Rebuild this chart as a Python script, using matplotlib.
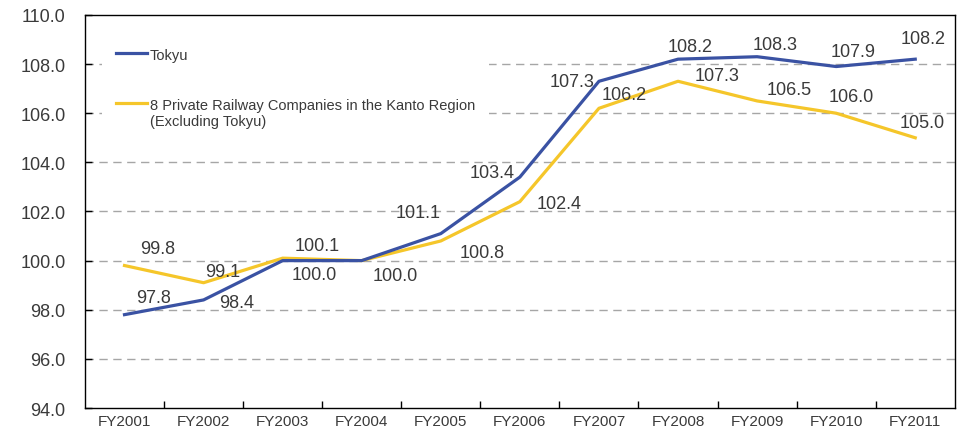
import matplotlib.pyplot as plt
from matplotlib.ticker import FixedLocator

plt.rcParams['font.family'] = ['Liberation Sans', 'DejaVu Sans']

years = ["FY2001", "FY2002", "FY2003", "FY2004", "FY2005", "FY2006",
         "FY2007", "FY2008", "FY2009", "FY2010", "FY2011"]
tokyu = [97.8, 98.4, 100.0, 100.0, 101.1, 103.4, 107.3, 108.2, 108.3, 107.9, 108.2]
kanto = [99.8, 99.1, 100.1, 100.0, 100.8, 102.4, 106.2, 107.3, 106.5, 106.0, 105.0]
yticks = [94, 96, 98, 100, 102, 104, 106, 108, 110]

# label offsets in points (dx, dy) ; None = no label
off_tokyu = [(21, 12), (24, -2), (23, -10), (24, -11), (-16, 15), (-20, 3),
             (-19, 0), (9, 9), (13, 9), (12, 11), (6, 15)]
off_kanto = [(24, 12), (14, 8), (25, 9), None, (30, -8), (28, -1),
             (18, 10), (28, 4), (23, 8), (11, 12), (5, 11)]

BLUE = "#3a52a3"
YELLOW = "#f5c62a"
TXT = "#3a3a3a"

fig = plt.figure(figsize=(9.59, 4.31), dpi=100)
ax = fig.add_axes([0.0886, 0.051, 0.907, 0.912])

x = list(range(len(years)))
ax.plot(x, tokyu, color=BLUE, lw=2.3, label="Tokyu", zorder=3)
ax.plot(x, kanto, color=YELLOW, lw=2.3,
        label="8 Private Railway Companies in the Kanto Region\n(Excluding Tokyu)", zorder=2)

for xs, vals, offs in [(x, tokyu, off_tokyu), (x, kanto, off_kanto)]:
    for xi, v, o in zip(xs, vals, offs):
        if o is None:
            continue
        ax.annotate(f"{v:.1f}", (xi, v), xytext=o, textcoords="offset points",
                    ha="center", va="center", fontsize=13, color=TXT, zorder=5)

ax.set_xlim(-0.5, len(years) - 0.5)
ax.set_ylim(94, 110)
ax.set_yticks(yticks)
ax.set_yticklabels([f"{t:.1f}" for t in yticks])
ax.set_xticks(x)
ax.set_xticklabels(years)
ax.xaxis.set_minor_locator(FixedLocator([i + 0.5 for i in range(len(years) - 1)]))
ax.tick_params(axis="x", which="major", length=0, pad=4, labelsize=11, labelcolor=TXT)
ax.tick_params(axis="x", which="minor", direction="in", length=5, width=1, color="black")
ax.tick_params(axis="y", direction="in", length=5, width=1, pad=14, labelsize=13, labelcolor=TXT)

for yt in yticks[1:-1]:
    ax.axhline(yt, color="#a6a6a6", lw=1, ls=(0, (6, 4)), zorder=1)

for s in ax.spines.values():
    s.set_color("black")
    s.set_linewidth(1)

leg = ax.legend(loc="upper left", bbox_to_anchor=(0.014, 0.965), frameon=True, fontsize=10.5,
                handlelength=2.1, handletextpad=0.2, labelspacing=2.5, borderpad=1.0,
                borderaxespad=0.3)
leg.get_frame().set_facecolor("white")
leg.get_frame().set_edgecolor("none")
leg.get_frame().set_alpha(1)
leg.set_zorder(4)
for t in leg.get_texts():
    t.set_color(TXT)
# handle level with the first line of a two-line label
for col in leg._legend_handle_box.get_children():
    for row in col.get_children():
        row.align = "top"

fig.savefig("out.png", dpi=100)
